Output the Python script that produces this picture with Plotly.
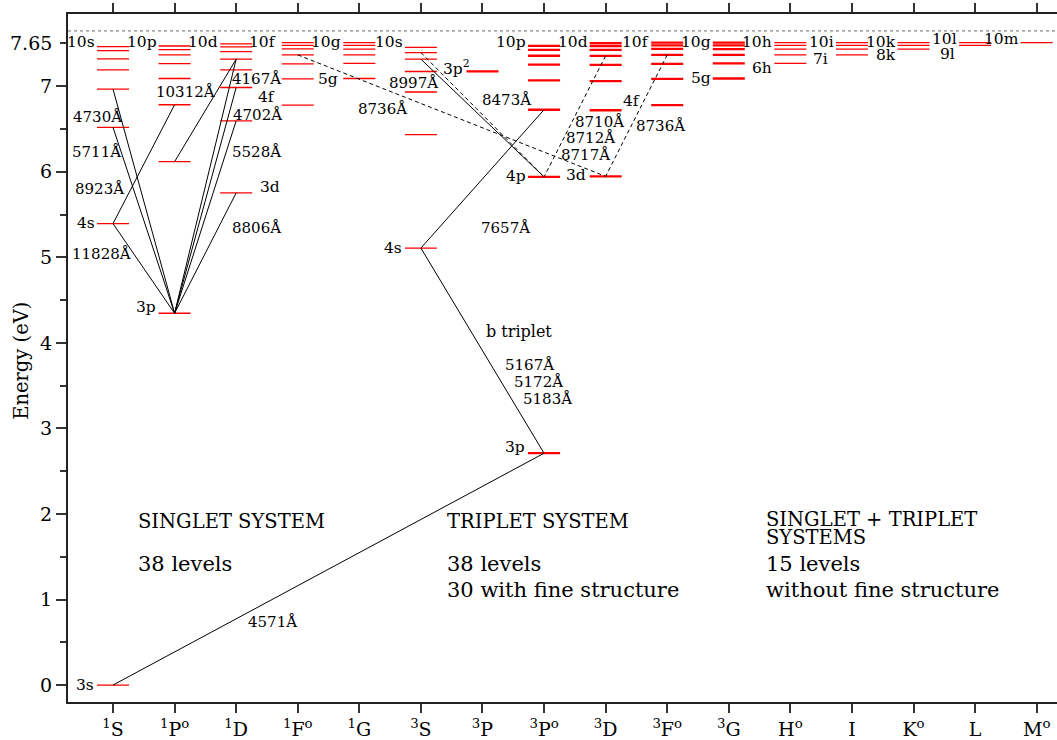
import plotly.graph_objects as go

# ---------------- data (energies in eV) ----------------
col_labels = ["<sup>1</sup>S", "<sup>1</sup>P<sup>o</sup>", "<sup>1</sup>D", "<sup>1</sup>F<sup>o</sup>",
              "<sup>1</sup>G", "<sup>3</sup>S", "<sup>3</sup>P", "<sup>3</sup>P<sup>o</sup>",
              "<sup>3</sup>D", "<sup>3</sup>F<sup>o</sup>", "<sup>3</sup>G", "H<sup>o</sup>",
              "I", "K<sup>o</sup>", "L", "M<sup>o</sup>"]

S1 = [0.0, 5.394, 6.519, 6.966, 7.191, 7.319, 7.416, 7.463]
P1 = [4.346, 6.118, 6.783, 7.090, 7.265, 7.366, 7.428, 7.470]
D1 = [5.753, 6.595, 6.985, 7.190, 7.316, 7.405, 7.460, 7.494]
F1 = [6.780, 7.086, 7.261, 7.366, 7.436, 7.478, 7.509]
G1 = [7.090, 7.268, 7.366, 7.433, 7.478, 7.509]
S3 = [5.108, 6.434, 6.932, 7.172, 7.316, 7.393, 7.455]
P3 = [7.174]
Po3 = [2.710, 5.940, 6.725, 7.067, 7.253, 7.356, 7.425, 7.472]
D3 = [5.946, 6.719, 7.060, 7.250, 7.355, 7.425, 7.470, 7.503]
F3 = [6.780, 7.086, 7.261, 7.366, 7.436, 7.478, 7.509]
G3 = [7.090, 7.268, 7.366, 7.433, 7.478, 7.509]
Hc = [7.268, 7.366, 7.433, 7.478, 7.509]
Ic = [7.366, 7.433, 7.478, 7.509]
Kc = [7.433, 7.478, 7.509]
Lc = [7.478, 7.509]
Mc = [7.509]

ionization = 7.646

terms = {"S1": S1, "P1": P1, "D1": D1, "F1": F1, "G1": G1, "S3": S3, "P3": P3, "Po3": Po3,
         "D3": D3, "F3": F3, "G3": G3, "H": Hc, "I": Ic, "K": Kc, "L": Lc, "M": Mc}
term_order = list(terms.keys())
thick_terms = {"P3", "Po3", "D3", "F3", "G3"}

# transitions: (lower term, index, upper term, index, dashed)
transitions = [
    ("S1", 0, "Po3", 0, False),   # 4571
    ("P1", 0, "S1", 1, False),    # 11828
    ("P1", 0, "S1", 2, False),    # 5711
    ("P1", 0, "S1", 3, False),    # 4730
    ("S1", 1, "P1", 2, False),    # 8923
    ("P1", 0, "D1", 0, False),    # 8806
    ("P1", 0, "D1", 1, False),    # 5528
    ("P1", 0, "D1", 2, False),    # 4702
    ("P1", 0, "D1", 4, False),    # 4167
    ("P1", 1, "D1", 4, False),    # 10312
    ("F1", 3, "D3", 0, True),     # 8736
    ("F3", 3, "D3", 0, True),     # 8736
    ("D3", 4, "Po3", 1, True),    # 8710/8712/8717
    ("S3", 4, "Po3", 1, False),   # 8997
    ("S3", 5, "Po3", 1, True),    # 8473
    ("S3", 0, "Po3", 2, False),   # 7657
    ("S3", 0, "Po3", 0, False),   # b triplet
]

# ---------------- figure ----------------
FONT = "DejaVu Serif"
HW = 0.26
XR = [-0.731, 15.33]
YR = [-0.198, 7.844]

fig = go.Figure()

for thick in (False, True):
    xs, ys = [], []
    for t in term_order:
        if (t in thick_terms) != thick:
            continue
        c = term_order.index(t)
        for e in terms[t]:
            xs += [c - HW, c + HW, None]
            ys += [e, e, None]
    fig.add_trace(go.Scatter(x=xs, y=ys, mode="lines",
                             line=dict(color="#ff0000", width=2.3 if thick else 1.3),
                             hoverinfo="skip", showlegend=False))

for dashed in (False, True):
    xs, ys = [], []
    for a, i, b, j, d in transitions:
        if d != dashed:
            continue
        xs += [term_order.index(a), term_order.index(b), None]
        ys += [terms[a][i], terms[b][j], None]
    fig.add_trace(go.Scatter(x=xs, y=ys, mode="lines",
                             line=dict(color="black", width=1, dash="4px,3px" if dashed else "solid"),
                             hoverinfo="skip", showlegend=False))

# invisible trace to activate top axis
fig.add_trace(go.Scatter(x=[0], y=[0], xaxis="x2", mode="markers",
                         marker=dict(opacity=0), hoverinfo="skip", showlegend=False))

ann = []

def lab(x, y, text, size=15, xanchor="center", xref="x", xshift=0, yshift=0, angle=0):
    ann.append(dict(x=x, y=y, xref=xref, yref="y", text=text, showarrow=False,
                    xanchor=xanchor, yanchor="middle", xshift=xshift, yshift=yshift,
                    textangle=angle, font=dict(family=FONT, size=size, color="black")))

# top labels (highest member of each series)
top_labels = [("S1", "10s"), ("P1", "10p"), ("D1", "10d"), ("F1", "10f"), ("G1", "10g"),
              ("S3", "10s"), ("Po3", "10p"), ("D3", "10d"), ("F3", "10f"), ("G3", "10g"),
              ("H", "10h"), ("I", "10i"), ("K", "10k"), ("L", "10l"), ("M", "10m")]
for t, txt in top_labels:
    c = term_order.index(t)
    ys = 3 if t in ("L", "M") else 0
    xs = -4 if t == "F1" else 0
    lab(c - HW, 7.517, txt, 15.5, "right", xshift=xs, yshift=ys)

# lower-member labels: (term, index, text, side, xshift, yshift)
low_labels = [("S1", 1, "4s", "right", 0, 1), ("S1", 0, "3s", "right", -1, 0),
              ("P1", 0, "3p", "right", -1, 6), ("D1", 0, "3d", "left", 6, 6),
              ("F1", 0, "4f", "right", -5, 8), ("G1", 0, "5g", "right", -3, 0),
              ("S3", 0, "4s", "right", -1, 0), ("P3", 0, "3p<sup>2</sup>", "right", 6, 4),
              ("Po3", 1, "4p", "right", 0, 1), ("Po3", 0, "3p", "right", -1, 6),
              ("D3", 0, "3d", "right", -2, 1), ("F3", 0, "4f", "right", -9, 4),
              ("G3", 0, "5g", "right", 0, 1), ("H", 0, "6h", "right", 0, -5),
              ("I", 0, "7i", "right", -6, -4), ("K", 0, "8k", "right", 0, -6),
              ("L", 0, "9l", "right", -2, -9)]
for t, i, txt, side, xs, ys in low_labels:
    c = term_order.index(t)
    e = terms[t][i]
    if side == "right":
        lab(c - HW, e, txt, 15.5, "right", xshift=xs, yshift=ys)
    else:
        lab(c + HW, e, txt, 15.5, "left", xshift=xs, yshift=ys)

# wavelength labels
wl_labels = [("4730Å", -0.26, 6.643), ("5711Å", -0.268, 6.235), ("8923Å", -0.227, 5.793),
             ("11828Å", -0.187, 5.035), ("10312Å", 1.169, 6.935), ("4167Å", 2.322, 7.086),
             ("4702Å", 2.347, 6.667), ("5528Å", 2.330, 6.235), ("8806Å", 2.330, 5.338),
             ("8997Å", 4.880, 7.040), ("8736Å", 4.376, 6.737), ("8473Å", 6.382, 6.841),
             ("8710Å", 7.908, 6.585), ("8712Å", 7.754, 6.399), ("8717Å", 7.665, 6.200),
             ("8736Å", 8.883, 6.538), ("7657Å", 6.374, 5.338), ("b triplet", 6.585, 4.138),
             ("5167Å", 6.763, 3.741), ("5172Å", 6.910, 3.543), ("5183Å", 7.056, 3.345),
             ("4571Å", 2.582, 0.734)]
for txt, x, y in wl_labels:
    lab(x, y, txt, 16 if txt == "b triplet" else 15)

# system descriptions: (text, x, y, size)
sys_labels = [("SINGLET SYSTEM", 0.373, 1.911, 19.5), ("38 levels", 0.373, 1.410, 21),
              ("TRIPLET SYSTEM", 5.391, 1.911, 19.5), ("38 levels", 5.391, 1.410, 21),
              ("30 with fine structure", 5.391, 1.107, 21),
              ("SINGLET + TRIPLET", 10.572, 1.940, 19.5), ("SYSTEMS", 10.572, 1.725, 19.5),
              ("15 levels", 10.572, 1.410, 21), ("without fine structure", 10.572, 1.107, 21)]
for txt, x, y, s in sys_labels:
    lab(x, y, txt, s, "left")

# ionization tick label and axis title
lab(0, 7.5, "7.65", 19, "right", xref="paper", xshift=-14)
lab(0, 3.79, "Energy (eV)", 19.5, "center", xref="paper", xshift=-46, angle=-90)

fig.add_shape(type="line", xref="paper", x0=0, x1=1, yref="y", y0=ionization, y1=ionization,
              line=dict(color="#666666", width=1, dash="dot"))

fig.update_layout(
    width=1057, height=740,
    margin=dict(l=68, r=0, t=14, b=36),
    paper_bgcolor="white", plot_bgcolor="white",
    annotations=ann,
    hovermode=False,
    xaxis=dict(range=XR, tickmode="array", tickvals=list(range(16)), ticktext=col_labels,
               ticks="outside", ticklen=9, tickwidth=1.5, tickcolor="#333",
               showline=True, linecolor="#222", linewidth=2, showgrid=False, zeroline=False,
               tickfont=dict(family=FONT, size=19, color="black")),
    xaxis2=dict(range=XR, overlaying="x", side="top", tickmode="array", tickvals=list(range(16)),
                showticklabels=False, ticks="outside", ticklen=9, tickwidth=1.5, tickcolor="#333",
                showline=True, linecolor="#222", linewidth=2, showgrid=False, zeroline=False),
    yaxis=dict(range=YR, tickmode="array", tickvals=list(range(8)),
               ticktext=[str(v) for v in range(8)],
               ticks="outside", ticklen=10, tickwidth=1.5, tickcolor="#333",
               minor=dict(tickmode="array", tickvals=[0.5, 1.5, 2.5, 3.5, 4.5, 5.5, 6.5, 7.5],
                          ticks="outside", ticklen=6, tickwidth=1.5, tickcolor="#333",
                          showgrid=False),
               showline=True, linecolor="#222", linewidth=2, showgrid=False, zeroline=False,
               tickfont=dict(family=FONT, size=19, color="black")),
)

fig.write_html("out.html", config={"displayModeBar": False},
               post_script="document.body.style.margin='0';document.body.style.overflow='hidden';")
